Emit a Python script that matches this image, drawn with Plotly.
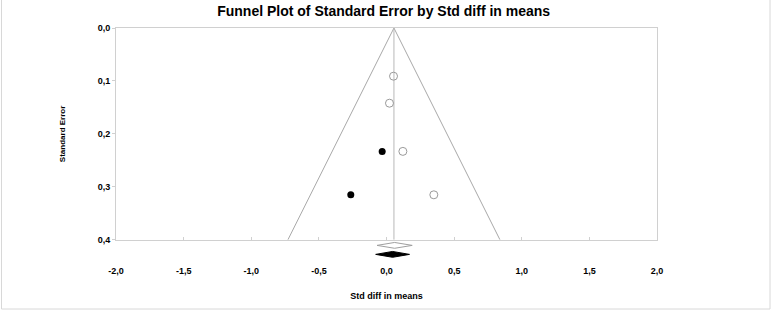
import plotly.graph_objects as go

# ---- data ----
se_observed = [0.091, 0.142, 0.233, 0.315]
effect_observed = [0.052, 0.022, 0.121, 0.350]
se_imputed = [0.233, 0.315]
effect_imputed = [-0.032, -0.264]

mean_observed = 0.06      # observed pooled estimate (open diamond)
ci_observed = (-0.07, 0.19)
mean_adjusted = 0.045     # trim-and-fill adjusted estimate (filled diamond)
ci_adjusted = (-0.08, 0.17)
funnel_mean = 0.055
z = 1.96
se_max = 0.4

x_ticks = [-2.0, -1.5, -1.0, -0.5, 0.0, 0.5, 1.0, 1.5, 2.0]
y_ticks = [0.0, 0.1, 0.2, 0.3, 0.4]
fmt = lambda v: f"{v:.1f}".replace(".", ",")

FONT = "Arial, Liberation Sans, sans-serif"
y_extra = 0.04          # room below frame for the summary diamonds
d0 = y_extra / (se_max + y_extra)

fig = go.Figure()

# funnel
fig.add_trace(go.Scatter(
    x=[funnel_mean - z * se_max, funnel_mean, funnel_mean + z * se_max],
    y=[se_max, 0, se_max], mode="lines",
    line=dict(color="#a8a8a8", width=1), hoverinfo="skip", showlegend=False))
fig.add_trace(go.Scatter(
    x=[funnel_mean, funnel_mean], y=[0, se_max], mode="lines",
    line=dict(color="#b8b8b8", width=1), hoverinfo="skip", showlegend=False))

# studies
fig.add_trace(go.Scatter(
    x=effect_observed, y=se_observed, mode="markers",
    marker=dict(symbol="circle-open", size=8, color="#9a9a9a", line=dict(width=1)),
    showlegend=False))
fig.add_trace(go.Scatter(
    x=effect_imputed, y=se_imputed, mode="markers",
    marker=dict(symbol="circle", size=7, color="#000000"),
    showlegend=False))

# diamonds (in lower strip, y2)
def diamond(center, lo, hi, yc, h):
    return [lo, center, hi, center, lo], [yc, yc - h, yc, yc + h, yc]

dx, dy = diamond(mean_observed, ci_observed[0], ci_observed[1], 0.4105, 0.0055)
fig.add_trace(go.Scatter(x=dx, y=dy, mode="lines", fill="toself",
                         fillcolor="white", line=dict(color="#a0a0a0", width=1),
                         yaxis="y2", showlegend=False, hoverinfo="skip"))
dx, dy = diamond(mean_adjusted, ci_adjusted[0], ci_adjusted[1], 0.4275, 0.0055)
fig.add_trace(go.Scatter(x=dx, y=dy, mode="lines", fill="toself",
                         fillcolor="black", line=dict(color="black", width=1),
                         yaxis="y2", showlegend=False, hoverinfo="skip"))

fig.update_layout(
    width=772, height=311,
    margin=dict(l=116, r=115, t=28, b=50),
    paper_bgcolor="white", plot_bgcolor="white",
    title=dict(text="<b>Funnel Plot of Standard Error by Std diff in means</b>",
               x=0.497, xanchor="center", y=0.965, yanchor="middle",
               font=dict(family=FONT, size=14, color="black")),
    xaxis=dict(range=[-2, 2], tickvals=x_ticks, ticktext=[fmt(v) for v in x_ticks],
               anchor="y", showgrid=False, zeroline=False,
               showline=True, linecolor="#d0d0d0", linewidth=1, mirror=True,
               ticks="inside", ticklen=3, tickcolor="#d0d0d0",
               ticklabelstandoff=22,
               tickfont=dict(family=FONT, size=9, color="black", weight="bold"),
               title=dict(text="<b>Std diff in means</b>", standoff=18,
                          font=dict(family=FONT, size=9, color="black"))),
    yaxis=dict(range=[se_max, 0], domain=[d0, 1], tickvals=y_ticks,
               ticktext=[fmt(v) for v in y_ticks],
               showgrid=False, zeroline=False,
               showline=True, linecolor="#d0d0d0", linewidth=1, mirror=True,
               ticks="outside", ticklen=3, tickcolor="#d0d0d0",
               tickfont=dict(family=FONT, size=9, color="black", weight="bold"),
               title=dict(text="Standard Error", standoff=30,
                          font=dict(family="Liberation Sans Narrow, Arial Narrow, Arial, sans-serif",
                                    size=8, color="black", weight="bold"))),
    yaxis2=dict(range=[se_max + y_extra, se_max], domain=[0, d0], anchor="x",
                visible=False),
    shapes=[dict(type="rect", xref="paper", yref="paper",
                 x0=(1.5 - 116) / 541, x1=(770 - 116) / 541,
                 y0=-48 / 233, y1=1 + 30 / 233,
                 line=dict(color="#d8d8d8", width=1), layer="below")],
)

fig.write_html("out.html", config={"displayModeBar": False},
               post_script="document.body.style.margin='0';document.body.style.padding='0';")
